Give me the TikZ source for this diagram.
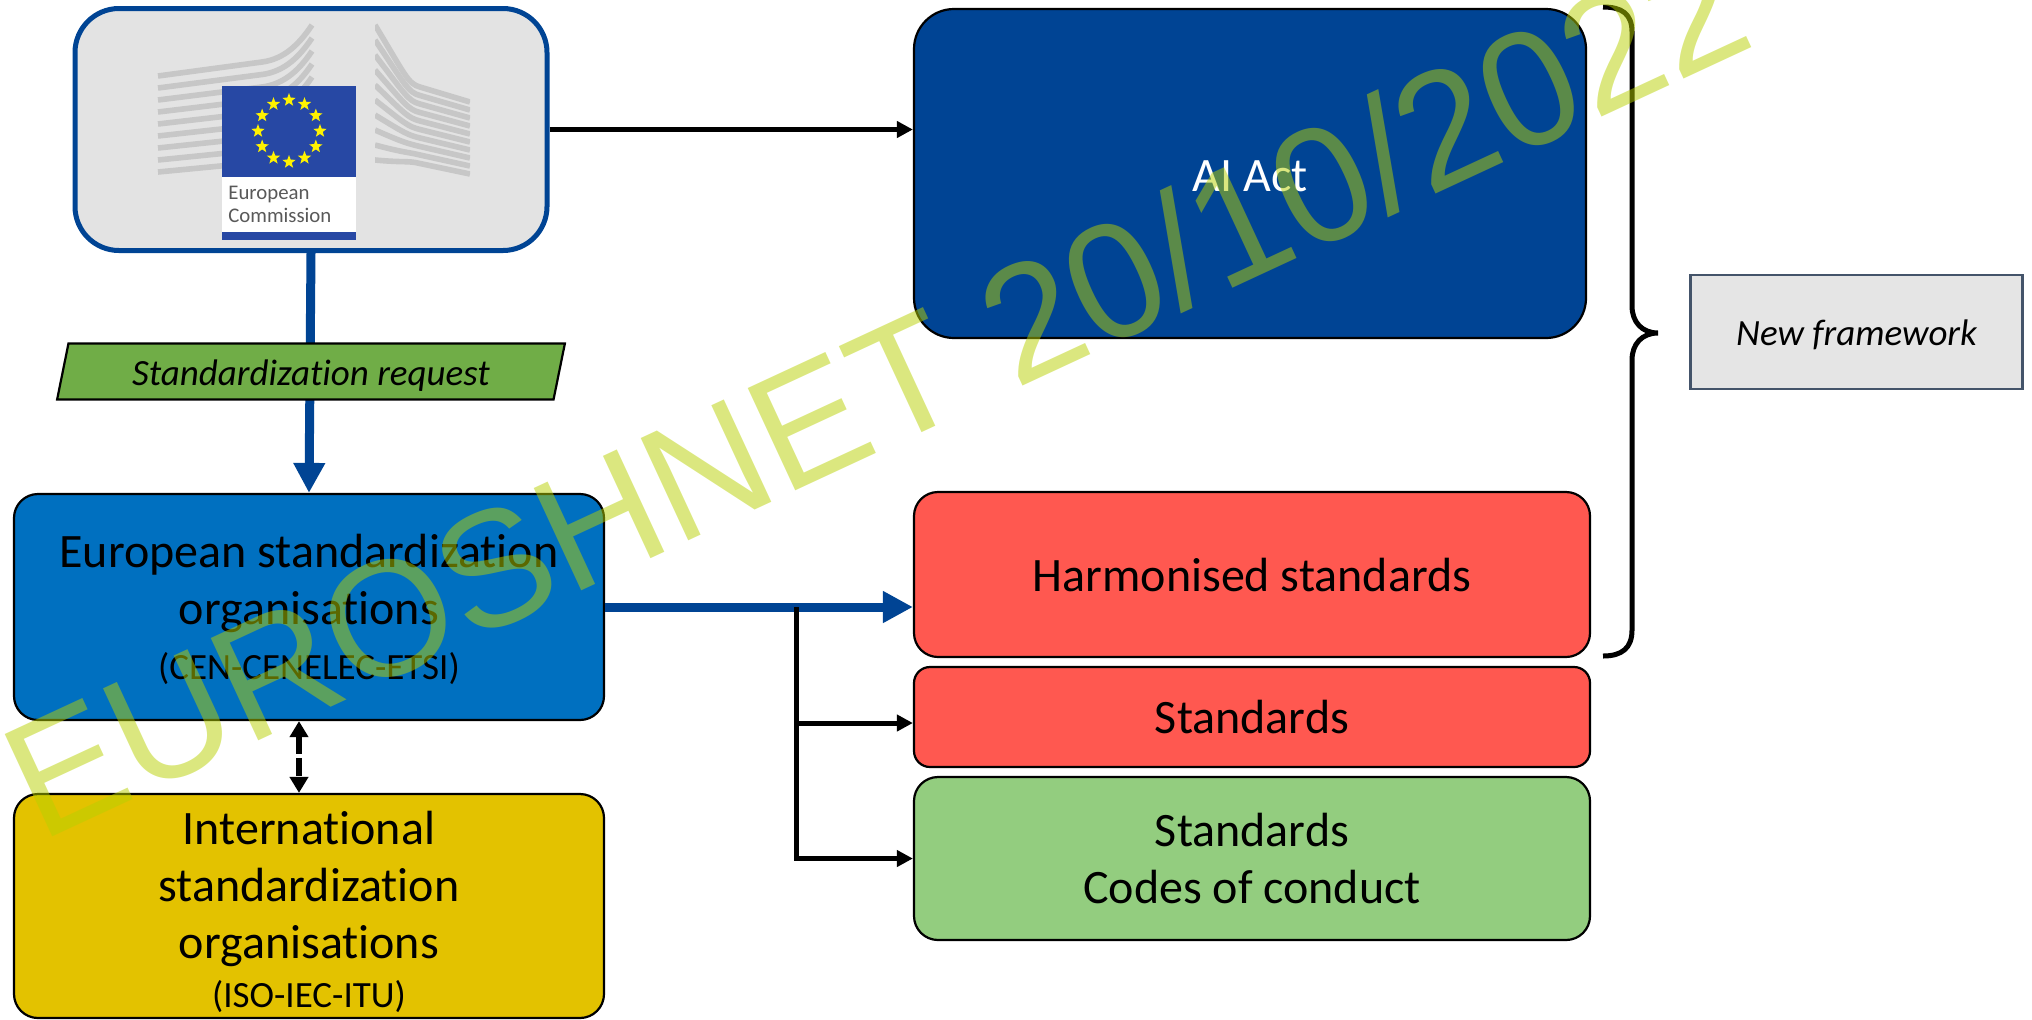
\documentclass[tikz,border=0pt]{standalone}
\usepackage{xcolor}
\usepackage{fontspec}
\setmainfont[Ligatures=NoCommon]{Carlito}
\newfontfamily\markfont{Liberation Sans}
\usetikzlibrary{arrows.meta,shapes.geometric}
\definecolor{ecblue}{HTML}{004494}
\definecolor{flagblue}{HTML}{2748A4}
\definecolor{esoblue}{HTML}{0070C0}
\definecolor{isoyellow}{HTML}{E3C200}
\definecolor{stdred}{HTML}{FF5850}
\definecolor{stdgreen}{HTML}{93CD7F}
\definecolor{reqgreen}{HTML}{70AD47}
\definecolor{markgreen}{HTML}{B7D000}
\definecolor{frameborder}{HTML}{44546A}
\tikzset{
    box/.style={draw=black,line width=1.1pt,rounded corners=12pt,align=center,inner sep=0pt,
        font=\fontsize{24}{28.5}\selectfont},
    bluearrow/.style={draw=ecblue,line width=4.5pt,-{Triangle[length=15pt,width=15pt]}},
    blackarrow/.style={draw=black,line width=2.5pt,-{Triangle[length=8pt,width=8pt]}},
    eustar/.style={star,star points=5,star point ratio=2.4,fill=yellow,inner sep=0pt,minimum size=7pt}
}
\begin{document}
\begin{tikzpicture}[x=0.5pt,y=-0.5pt]
    \useasboundingbox (0,0) rectangle (2032,1019);
    % boxes
    \node[box,draw=ecblue,line width=2.5pt,fill=black!11,rounded corners=22pt,minimum width=236pt,minimum height=121pt] (ec) at (311,129.5) {};
    \node[box,fill=ecblue,text=white,rounded corners=20pt,minimum width=336pt,minimum height=164.5pt] (aiact) at (1250,173.5) {\rule{0pt}{18pt}AI Act};
    \node[box,fill=stdred,minimum width=338pt,minimum height=82.5pt] (harm) at (1252,574.5) {Harmonised standards};
    \node[box,fill=stdred,rounded corners=8pt,minimum width=338pt,minimum height=50pt] (std) at (1252,717) {Standards};
    \node[box,fill=stdgreen,minimum width=338pt,minimum height=81.5pt] (codes) at (1252,858.5) {Standards\\Codes of conduct};
    \node[box,fill=esoblue,minimum width=295pt,minimum height=113pt] (eso) at (309,607) {\rule{0pt}{19pt}European standardization\\organisations\\[-1pt]{\fontsize{18.5}{20}\selectfont (CEN-CENELEC-ETSI)}};
    \node[box,fill=isoyellow,minimum width=295pt,minimum height=112pt] (iso) at (309,906) {\rule{0pt}{23pt}International\\standardization\\organisations\\[-4pt]{\fontsize{18.5}{20}\selectfont (ISO-IEC-ITU)}};
    \node[draw=frameborder,line width=1.2pt,fill=black!10,minimum width=166pt,minimum height=57pt,font=\fontsize{18.5}{20}\selectfont\itshape] (frame) at (1856.5,332) {\rule{0pt}{15.5pt}New framework};
    % logo
    \foreach \i in {0,...,8} {
        \pgfmathsetmacro{\yl}{76+\i*12}
        \pgfmathsetmacro{\ym}{62+\i*12.5}
        \pgfmathsetmacro{\yr}{25+\i*13}
        \draw[black!22,line width=2.8pt] (158,\yl) -- (262,\ym) .. controls (285,\ym-3) and (300,\yr+18) .. (312,\yr);
    }
    \begin{scope}
        \clip (375,20) rectangle (470,178);
        \foreach \i in {0,...,9} {
            \pgfmathsetmacro{\yl}{25+\i*15}
            \pgfmathsetmacro{\ym}{87+\i*8.5}
            \pgfmathsetmacro{\yr}{102+\i*8}
            \pgfmathsetmacro{\yc}{\yl+(\ym-\yl)*0.8}
            \draw[black!22,line width=2.8pt] (375,\yl) .. controls (405,\yc) and (408,\ym-3) .. (420,\ym) -- (470,\yr);
        }
    \end{scope}
    \fill[white] (222,177) rectangle (356,232);
    \fill[flagblue] (222,86) rectangle (356,177);
    \fill[flagblue] (222,232) rectangle (356,240);
    \foreach \a in {0,30,...,330} {
        \node[eustar] (star\a) at ({289+31*cos(\a)},{131+31*sin(\a)}) {};
    }
    \node[anchor=west,align=left,inner sep=0pt,text=black!65,font=\fontsize{10.4}{11.5}\selectfont] (ectext) at (228,204) {European\\Commission};
    % connectors
    \draw[bluearrow] (ec.south) -- (eso.north);
    \node[draw=black,line width=1.1pt,fill=reqgreen,trapezium,trapezium left angle=78,trapezium right angle=102,trapezium stretches=true,inner xsep=0pt,inner ysep=0pt,minimum width=254pt,minimum height=28pt,font=\fontsize{18.5}{20}\selectfont\itshape] (request) at (311,371.5) {\rule{0pt}{16.7pt}Standardization request};
    \draw[blackarrow] (ec.east) -- (ec.east -| aiact.west);
    \draw[bluearrow] (eso.east) -- (eso.east -| harm.west);
    \coordinate (fork) at (796,607);
    \draw[blackarrow] (fork) |- ([yshift=-3pt]std.west);
    \draw[blackarrow] (fork) |- (codes.west);
    \draw[blackarrow,line width=3pt,dash pattern=on 9pt off 2pt,{Triangle[length=8pt,width=9pt]}-{Triangle[length=8pt,width=9pt]}] ([xshift=-5pt]eso.south) -- ([xshift=-5pt]iso.north);
    % brace
    \coordinate (bracetop) at (1603,7);
    \coordinate (bracetip) at (1658,333);
    \coordinate (bracebot) at (1603,656);
    \draw[line width=2.5pt] (bracetop) .. controls (1622,7) and (1632,14) .. (1632,32) -- (1632,306) .. controls (1632,322) and (1642,333) .. (bracetip)
        .. controls (1642,333) and (1632,344) .. (1632,360) -- (1632,630) .. controls (1632,648) and (1622,656) .. (bracebot);
    % watermark
    \node[anchor=base,text=markgreen,opacity=0.5,rotate=24.9,font=\fontsize{82}{82}\selectfont\markfont,inner sep=0pt] (watermark) at (900,443) {EUROSHNET 20/10/2022};
\end{tikzpicture}
\end{document}
